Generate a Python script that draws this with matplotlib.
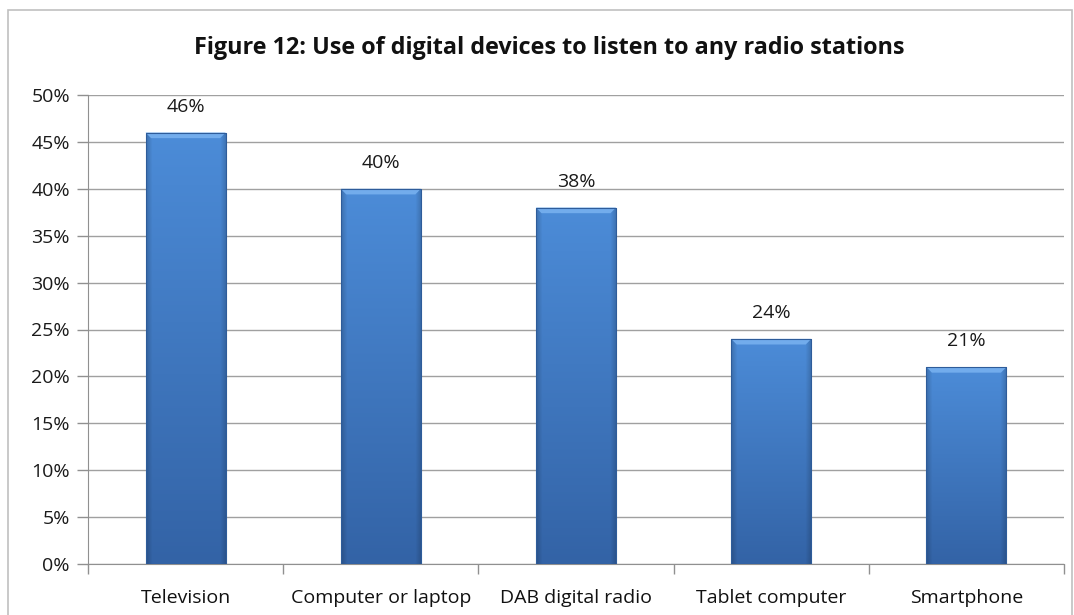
import matplotlib
matplotlib.use("Agg")
import matplotlib.pyplot as plt
import numpy as np
from matplotlib.patches import Rectangle, Polygon

categories = ["Television", "Computer or laptop", "DAB digital radio", "Tablet computer", "Smartphone"]
values = [46, 40, 38, 24, 21]
yticks = [0, 5, 10, 15, 20, 25, 30, 35, 40, 45, 50]
title = "Figure 12: Use of digital devices to listen to any radio stations"

plt.rcParams['font.family'] = ['Open Sans', 'DejaVu Sans']

fig = plt.figure(figsize=(10.74, 6.15), dpi=100)
ax = fig.add_axes([88/1074, 1-564/615, (1064-88)/1074, (564-95)/615])

x = np.arange(len(categories))
width = 0.41
bars = ax.bar(x, values, width=width, color="#3c7bc8", edgecolor="none", zorder=3)

# shading image for bars
top_c = np.array([0x4c, 0x8c, 0xd8]) / 255
bot_c = np.array([0x33, 0x63, 0xa6]) / 255
ny, nx = 200, 80
t = np.linspace(0, 1, ny)[:, None, None]
vert = top_c[None, None, :] * (1 - t) + bot_c[None, None, :] * t
xs = np.linspace(0, 1, nx)
edge = np.minimum(xs, 1 - xs) * nx  # pixels from edge
hfac = 1 - 0.18 * np.clip(1 - edge / 6.0, 0, 1)
img = np.clip(vert * hfac[None, :, None], 0, 1)

for b in bars:
    x0, w, h = b.get_x(), b.get_width(), b.get_height()
    im = ax.imshow(img, extent=[x0, x0 + w, 0, h], aspect='auto', zorder=3.5, interpolation='bilinear')
    im.set_clip_path(b)
    dx, dy = 0.028, 0.6
    ax.add_patch(Polygon([(x0, h), (x0 + w, h), (x0 + w - dx, h - dy), (x0 + dx, h - dy)],
                         closed=True, facecolor="#72acec", edgecolor="none", zorder=3.6))
    ax.add_patch(Rectangle((x0, 0), w, h, facecolor="none", edgecolor="#2e5c9a", linewidth=0.8, zorder=3.7))

for xi, v in zip(x, values):
    ax.annotate(f"{v}%", (xi, v), xytext=(0, 12), textcoords="offset points",
                ha="center", va="bottom", fontsize=14, color="#1a1a1a")

ax.set_xlim(-0.5, len(categories) - 0.5)
ax.set_ylim(0, 50)
ax.set_yticks(yticks)
ax.set_yticklabels([f"{t}%" for t in yticks], fontsize=14, color="#1a1a1a")
ax.yaxis.grid(True, color="#a0a0a0", linewidth=1, zorder=0)
ax.set_axisbelow(True)

ax.set_xticks(x)
ax.set_xticklabels(categories, fontsize=14, color="#111111")
ax.tick_params(axis='x', length=0, pad=18)
ax.set_xticks(np.arange(-0.5, len(categories)), minor=True)
ax.tick_params(axis='x', which='minor', length=7, color="#909090", width=1)
ax.tick_params(axis='y', length=8, color="#909090", width=1, pad=5)

for s in ["top", "right"]:
    ax.spines[s].set_visible(False)
ax.spines["left"].set_color("#909090")
ax.spines["bottom"].set_color("#909090")

fig.text(549/1074, 1 - 48/615, title, ha="center", va="center", fontsize=16.8, fontweight="bold", color="#111111")

fig.patches.append(Rectangle((8/1074, -0.02), (1072-8)/1074, 1 - 10/615 + 0.02,
                             transform=fig.transFigure, facecolor="none", edgecolor="#c0c0c0", linewidth=1.2))

fig.savefig("out.png", dpi=100)
